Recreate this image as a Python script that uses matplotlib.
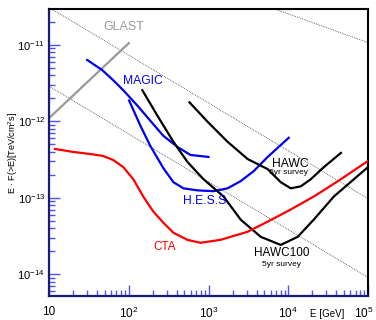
import numpy as np
import matplotlib
matplotlib.use("Agg")
import matplotlib.pyplot as plt
from matplotlib.ticker import LogLocator, FixedFormatter, FixedLocator, NullFormatter
from matplotlib.transforms import ScaledTranslation

plt.rcParams['font.family'] = ['Liberation Sans', 'DejaVu Sans']
plt.rcParams['mathtext.default'] = 'regular'

# sensitivity curves, E in GeV, E*F(>E) in TeV/cm^2/s
magic_E = [30.1, 46.4, 63.8, 85.3, 128, 186, 271, 407, 594, 1000]
magic_F = [6.34e-12, 4.68e-12, 3.45e-12, 2.55e-12, 1.61e-12, 1.02e-12, 6.47e-13, 4.63e-13, 3.63e-13, 3.42e-13]

hess_E = [101, 140, 186, 271, 363, 485, 728, 1157, 1734, 2528, 3683, 5520, 10140]
hess_F = [1.87e-12, 8.77e-13, 4.78e-13, 2.45e-13, 1.60e-13, 1.33e-13, 1.25e-13, 1.22e-13, 1.33e-13,
          1.65e-13, 2.23e-13, 3.42e-13, 6.09e-13]

hawc_E = [577, 971, 1734, 3097, 5520, 8050, 10740, 14350, 19170, 27980, 45730]
hawc_F = [1.77e-12, 9.9e-13, 5.4e-13, 3.21e-13, 2.37e-13, 1.60e-13, 1.33e-13, 1.41e-13, 1.75e-13,
          2.52e-13, 3.86e-13]

hawc100_E = [148, 228, 363, 545, 865, 1545, 2528, 4510, 8050, 13150, 20920, 37330, 100000]
hawc100_F = [2.55e-12, 1.19e-12, 5.4e-13, 2.94e-13, 1.75e-13, 1.04e-13, 5.19e-14, 3.09e-14, 2.42e-14,
             3.09e-14, 5.19e-14, 1.04e-13, 2.52e-13]

cta_E = [11.9, 20.0, 32.8, 47.8, 63.8, 85.3, 114, 152, 203, 271, 363, 545, 793, 1415, 3097, 5520,
         10740, 20920, 41980, 100000]
cta_F = [4.35e-13, 3.98e-13, 3.74e-13, 3.52e-13, 3.12e-13, 2.52e-13, 1.75e-13, 1.04e-13, 6.61e-14,
         4.73e-14, 3.49e-14, 2.82e-14, 2.58e-14, 2.82e-14, 3.60e-14, 4.88e-14, 7.03e-14, 1.04e-13,
         1.65e-13, 3.03e-13]

glast_E = [10, 100]
glast_F = [1.1e-12, 1.05e-11]

# reference crab-like lines (end points at 10 GeV and 100 TeV)
ref_E = [10, 100000]
ref_F = [[3.39e-10, 1.07e-11], [3.09e-11, 9.77e-14], [2.88e-12, 9.1e-15]]

fig = plt.figure(figsize=(3.76, 3.20), dpi=100)
ax = fig.add_axes([49 / 376, 1 - 296 / 320, 319 / 376, 287 / 320])
ax.set_xscale('log')
ax.set_yscale('log')
ax.set_xlim(10, 1e5)
ax.set_ylim(5.2e-15, 2.94e-11)

for f in ref_F:
    ax.plot(ref_E, f, color='#444444', lw=0.6, ls=(0, (1, 1.2)), zorder=1)

lw = 1.6
ax.plot(glast_E, glast_F, color='#999999', lw=lw, zorder=2)
ax.plot(magic_E, magic_F, color='#0000ee', lw=lw, zorder=3)
ax.plot(hess_E, hess_F, color='#0000ee', lw=lw, zorder=3)
ax.plot(hawc_E, hawc_F, color='black', lw=lw, zorder=3)
ax.plot(hawc100_E, hawc100_F, color='black', lw=lw, zorder=3)
ax.plot(cta_E, cta_F, color='#ff0000', lw=lw, zorder=3)

ax.text(85.5, 1.71e-11, 'GLAST', color='#999999', fontsize=9, ha='center', va='center')
ax.text(152, 3.37e-12, 'MAGIC', color='#0000ee', fontsize=8.7, ha='center', va='center')
ax.text(935, 9.06e-14, 'H.E.S.S.', color='#0000ee', fontsize=8.7, ha='center', va='center')
ax.text(279, 2.28e-14, 'CTA', color='#ff0000', fontsize=8.5, ha='center', va='center')
ax.text(10520, 2.77e-13, 'HAWC', color='black', fontsize=8.7, ha='center', va='center')
ax.text(9930, 2.11e-13, '5yr survey', color='black', fontsize=6, ha='center', va='center')
ax.text(8360, 1.9e-14, 'HAWC100', color='black', fontsize=8.5, ha='center', va='center')
ax.text(8130, 1.36e-14, '5yr survey', color='black', fontsize=6, ha='center', va='center')

# ticks
xt = [10, 1e2, 1e3, 1e4, 1e5]
ax.xaxis.set_major_locator(FixedLocator(xt))
ax.xaxis.set_major_formatter(FixedFormatter(['10', '$10^{2}$', '$10^{3}$', '$10^{4}$', '$10^{5}$']))
yt = [1e-14, 1e-13, 1e-12, 1e-11]
ax.yaxis.set_major_locator(FixedLocator(yt))
ax.yaxis.set_major_formatter(FixedFormatter(['$10^{-14}$', '$10^{-13}$', '$10^{-12}$', '$10^{-11}$']))
for a in (ax.xaxis, ax.yaxis):
    a.set_minor_locator(LogLocator(base=10, subs=np.arange(2, 10), numticks=20))
    a.set_minor_formatter(NullFormatter())

ax.tick_params(which='both', direction='in', color='#5050ff', width=1, top=False, right=False)
ax.tick_params(axis='x', labelsize=8.5, pad=7)
ax.tick_params(axis='y', labelsize=8, pad=3)
ax.tick_params(which='major', length=8)
ax.tick_params(which='minor', length=4)

# keep the last x label inside the figure
last = ax.xaxis.get_major_ticks()[-1].label1
last.set_transform(last.get_transform() + ScaledTranslation(-3 / 72, 0, fig.dpi_scale_trans))

for s in ('left', 'bottom'):
    ax.spines[s].set_color('#1a1a78')
    ax.spines[s].set_linewidth(1.6)
for s in ('top', 'right'):
    ax.spines[s].set_color('black')
    ax.spines[s].set_linewidth(1.5)

ax.set_ylabel('E $\\cdot$ F(>E)[TeV/cm$^{2}$s]', fontsize=6.5)
ax.yaxis.set_label_coords(-0.09, 0.5)
ax.set_xlabel('E [GeV]', fontsize=7, ha='right')
ax.xaxis.set_label_coords(0.925, -0.045)

fig.savefig('out.png', dpi=100)
